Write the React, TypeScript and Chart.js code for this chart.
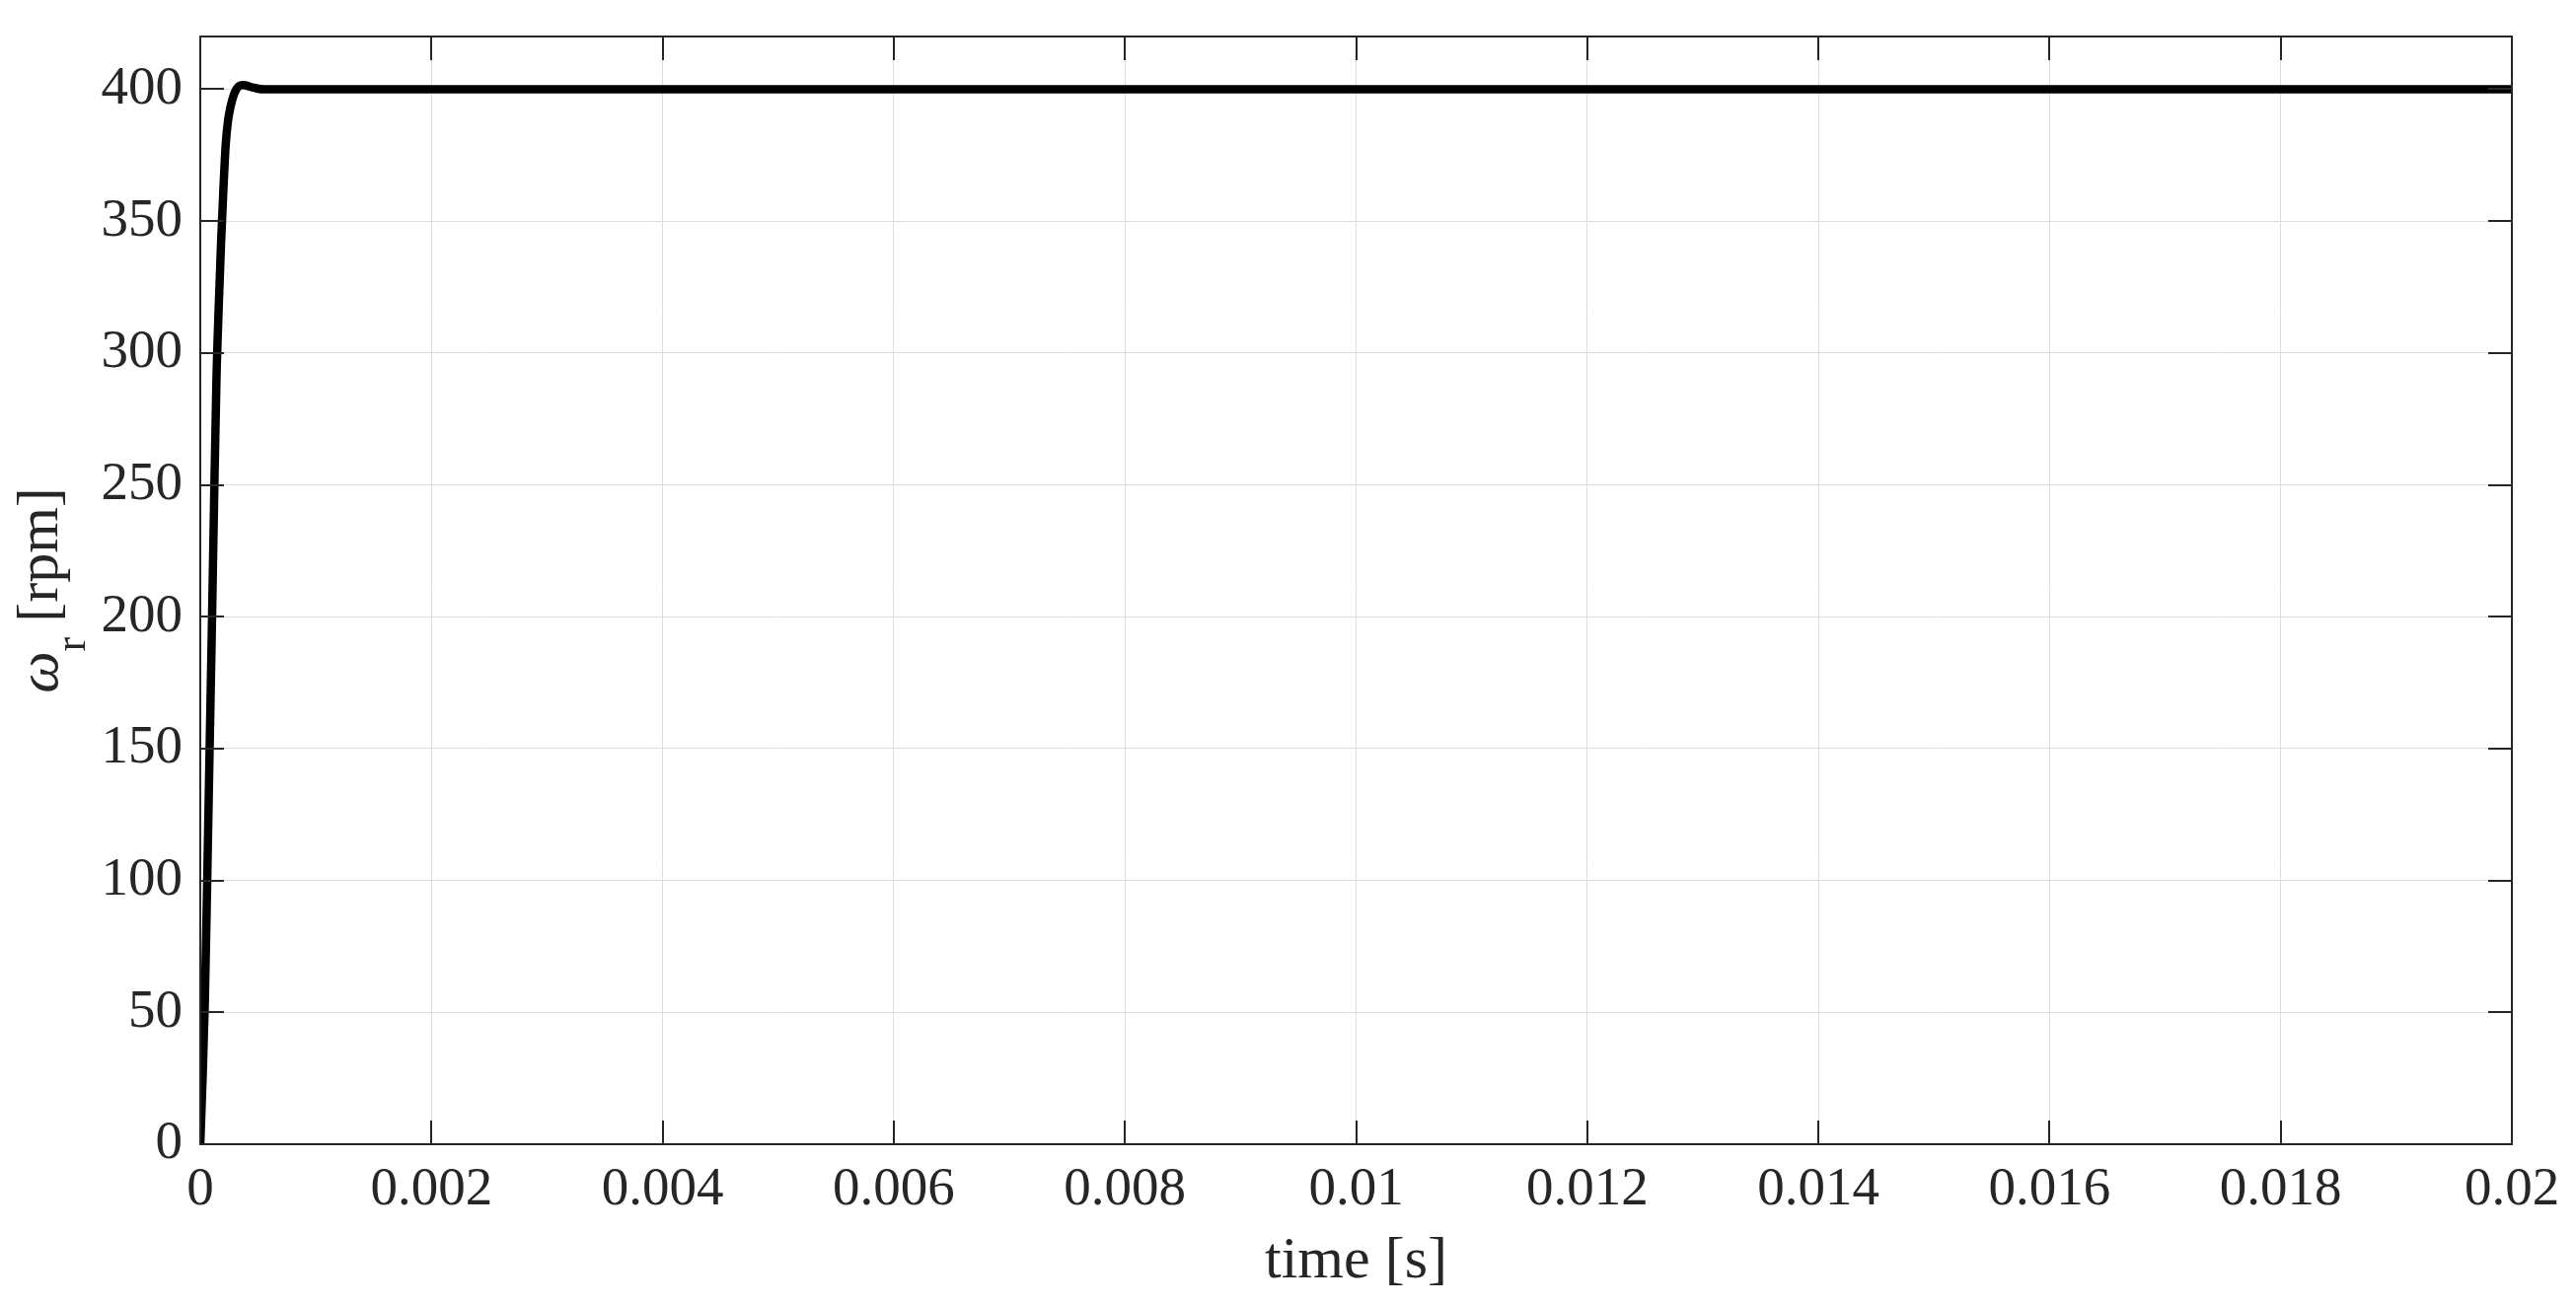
import React, { useEffect, useRef } from "react";
import { Chart, registerables } from "chart.js";

Chart.register(...registerables);

const timeS = [0, 0.00002, 0.00004, 0.00006, 0.00008, 0.0001, 0.00012, 0.00014, 0.00016, 0.00018, 0.0002, 0.00022, 0.00024, 0.00026, 0.00028, 0.0003, 0.00033, 0.00036, 0.00039, 0.00042, 0.00046, 0.0005, 0.00055, 0.0006, 0.0008, 0.002, 0.01, 0.02];
const speedRpm = [0, 25, 55, 100, 148, 195, 245, 290, 318, 342, 362, 379, 388, 393, 396.5, 399, 401, 401.6, 401.5, 401.1, 400.6, 400.2, 400, 400, 400, 400, 400, 400];

const xTickMin = 0;
const xTickMax = 0.02;
const xTickStep = 0.002;
const yTickMin = 0;
const yTickMax = 420;
const yTickStep = 50;

const xTitle = "time [s]";
const yTitleSymbol = "ω";
const yTitleSub = "r";
const yTitleRest = " [rpm]";

const FONT = "'Liberation Serif', 'Times New Roman', serif";
const INK = "#262626";

const framePlugin = {
  id: "matlabFrame",
  afterDraw(chart: any) {
    const { ctx, chartArea } = chart;
    const { left, right, top, bottom } = chartArea;
    const xs = chart.scales.x;
    const ys = chart.scales.y;
    ctx.save();
    ctx.strokeStyle = INK;
    ctx.lineWidth = 2;
    const tl = 24;
    ctx.beginPath();
    xs.ticks.forEach((t: any) => {
      const px = Math.round(xs.getPixelForValue(t.value));
      ctx.moveTo(px, bottom);
      ctx.lineTo(px, bottom - tl);
      ctx.moveTo(px, top);
      ctx.lineTo(px, top + tl);
    });
    ys.ticks.forEach((t: any) => {
      const py = Math.round(ys.getPixelForValue(t.value));
      ctx.moveTo(left, py);
      ctx.lineTo(left + tl, py);
      ctx.moveTo(right, py);
      ctx.lineTo(right - tl, py);
    });
    ctx.stroke();
    ctx.strokeRect(left, top, right - left, bottom - top);

    // x title
    ctx.fillStyle = INK;
    ctx.font = `60px ${FONT}`;
    ctx.textAlign = "center";
    ctx.textBaseline = "alphabetic";
    ctx.fillText(xTitle, (left + right) / 2, 1295);

    // y title (rotated)
    const mainFont = `60px ${FONT}`;
    const symFont = `italic 60px ${FONT}`;
    const subFont = `44px ${FONT}`;
    ctx.font = symFont;
    const wSym = ctx.measureText(yTitleSymbol).width;
    ctx.font = subFont;
    const wSub = ctx.measureText(yTitleSub).width;
    ctx.font = mainFont;
    const wRest = ctx.measureText(yTitleRest).width;
    const total = wSym + wSub + wRest;
    ctx.translate(58, (top + bottom) / 2);
    ctx.rotate(-Math.PI / 2);
    ctx.textAlign = "left";
    let x0 = -total / 2;
    ctx.font = symFont;
    ctx.fillText(yTitleSymbol, x0, 0);
    x0 += wSym;
    ctx.font = subFont;
    ctx.fillText(yTitleSub, x0, 28);
    x0 += wSub;
    ctx.font = mainFont;
    ctx.fillText(yTitleRest, x0, 0);
    ctx.restore();
  },
};

function fmt(v: number): string {
  return String(parseFloat(v.toFixed(6)));
}

export default function App() {
  const ref = useRef<HTMLCanvasElement | null>(null);
  useEffect(() => {
    document.body.style.margin = "0";
    const canvas = ref.current;
    if (!canvas) return;
    const points = timeS.map((t, i) => ({ x: t, y: speedRpm[i] }));
    const chart = new Chart(canvas, {
      type: "line",
      data: {
        datasets: [
          {
            data: points,
            borderColor: "#000000",
            borderWidth: 8.5,
            pointRadius: 0,
            fill: false,
            cubicInterpolationMode: "monotone",
            borderCapStyle: "round",
            borderJoinStyle: "round",
          } as any,
        ],
      },
      options: {
        responsive: false,
        animation: false,
        events: [],
        layout: { padding: { top: 37, right: 65, left: 0, bottom: 0 } },
        plugins: { legend: { display: false }, tooltip: { enabled: false } },
        scales: {
          x: {
            type: "linear",
            min: xTickMin,
            max: xTickMax,
            afterFit: (s: any) => {
              s.height = 163;
              s.paddingLeft = 0;
              s.paddingRight = 0;
            },
            border: { display: false },
            grid: { color: "#dedede", lineWidth: 1, drawTicks: false },
            ticks: {
              stepSize: xTickStep,
              includeBounds: false,
              autoSkip: false,
              maxRotation: 0,
              padding: 14,
              color: INK,
              font: { family: FONT, size: 55 },
              callback: (v: any) => fmt(Number(v)),
            },
          },
          y: {
            type: "linear",
            min: yTickMin,
            max: yTickMax,
            afterFit: (s: any) => {
              s.width = 203;
              s.paddingTop = 0;
              s.paddingBottom = 0;
            },
            border: { display: false },
            grid: { color: "#dedede", lineWidth: 1, drawTicks: false },
            ticks: {
              stepSize: yTickStep,
              includeBounds: false,
              autoSkip: false,
              padding: 18,
              color: INK,
              font: { family: FONT, size: 55 },
              callback: (v: any) => fmt(Number(v)),
            },
          },
        },
      },
      plugins: [framePlugin],
    });
    return () => chart.destroy();
  }, []);
  return (
    <div style={{ position: "absolute", left: 0, top: 0, width: 2611, height: 1323, background: "#ffffff" }}>
      <canvas ref={ref} width={2611} height={1323} style={{ display: "block" }} />
    </div>
  );
}
